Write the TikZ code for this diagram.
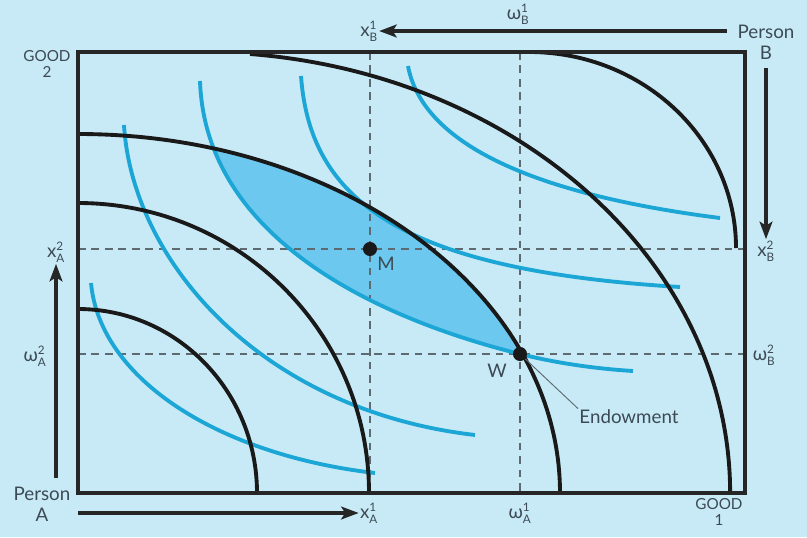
\documentclass[tikz,border=0pt]{standalone}
\usepackage{fontspec}
\setmainfont{Lato}
\usetikzlibrary{positioning,arrows.meta}

\definecolor{bgblue}{RGB}{200,234,247}
\definecolor{curveblue}{RGB}{27,166,214}
\definecolor{lensblue}{RGB}{108,200,238}
\definecolor{labelgray}{RGB}{60,74,84}
\definecolor{guidegray}{RGB}{95,105,112}

\newcommand{\glab}[3]{#1$^{\mbox{\fontsize{10}{10}\selectfont #2}}_{\mbox{\fontsize{10}{10}\selectfont #3}}$}

\begin{document}
\begin{tikzpicture}[
    x=0.3mm, y=-0.3mm,
    every node/.style={font=\fontsize{16}{18}\selectfont, text=labelgray, inner sep=1pt},
    boxline/.style={draw=black!85, line width=2.6pt},
    curveB/.style={draw=black!90, line width=3.3pt},
    curveA/.style={draw=curveblue, line width=3.3pt},
    guide/.style={draw=guidegray, line width=1.2pt, dash pattern=on 6.5pt off 5pt},
    axisarrow/.style={draw=black!85, line width=2.6pt, -{Stealth[length=15pt, width=11pt, inset=3.5pt]}},
    dot/.style={circle, fill=black!90, minimum size=12pt, inner sep=0pt},
    goodlabel/.style={font=\fontsize{13}{13}\selectfont, align=center}
]

% 背景
\fill[bgblue] (0,0) rectangle (807,537);
\useasboundingbox (0,0) rectangle (807,537);

% 阴影区域
\begin{scope}
\clip (200,81) .. controls (205,230) and (360,314) .. (520,354) -- (745,354) -- (745,52) -- (200,52) -- cycle;
\fill[lensblue] (78,493) ellipse[x radius=482, y radius=359];
\end{scope}

% 虚线
\draw[guide] (370,52) -- (370,493);
\draw[guide] (520,52) -- (520,493);
\draw[guide] (78,249) -- (745,249);
\draw[guide] (78,354) -- (745,354);

% 蓝色曲线
\draw[curveA] (91,283) .. controls (100,380) and (220,455) .. (375,473);
\draw[curveA] (124,125) .. controls (132,260) and (260,410) .. (475,435);
\draw[curveA] (200,81) .. controls (205,230) and (360,314) .. (520,354)
    .. controls (560,364) and (600,369) .. (633,371);
\draw[curveA] (301,76) .. controls (310,200) and (400,270) .. (680,287);
\draw[curveA] (408,66) .. controls (420,130) and (500,190) .. (720,218);

% 黑色曲线
\draw[curveB] (78,309) arc[start angle=-90, end angle=0, x radius=179, y radius=184];
\draw[curveB] (78,203) arc[start angle=-90, end angle=0, x radius=291, y radius=290];
\draw[curveB] (78,134) arc[start angle=-90, end angle=0, x radius=482, y radius=359];
\draw[curveB] (250,54) arc[start angle=-84.6, end angle=0, x radius=530, y radius=441];
\draw[curveB] (529,52) arc[start angle=-90, end angle=0, x radius=207, y radius=196];

% 方框
\draw[boxline] (78,52) rectangle (745,493);

% 点
\node[dot] (M) at (370,249) {};
\node[dot] (W) at (520,354) {};
\node (Mlabel) at (386,264) {M};
\node (Wlabel) at (497,371) {W};
\node (endow) at (629,417) {Endowment};
\draw[guidegray, line width=0.8pt] (W) -- (endow.north west);

% 坐标标签
\node[goodlabel] (goodtwo) at (47,64) {GOOD\\2};
\node[goodlabel] (goodone) at (719,512) {GOOD\\1};
\node[align=center] (personA) at (42,504) {Person\\A};
\node[align=center] (personB) at (766,42) {Person\\B};

\node (xAone) at (369,513) {\glab{x}{1}{A}};
\node (omegaAone) at (520,513) {\glab{ω}{1}{A}};
\node (xAtwo) at (56,252) {\glab{x}{2}{A}};
\node (omegaAtwo) at (35,356) {\glab{ω}{2}{A}};
\node (xBone) at (369,31) {\glab{x}{1}{B}};
\node (omegaBone) at (518,14) {\glab{ω}{1}{B}};
\node (xBtwo) at (766,251) {\glab{x}{2}{B}};
\node (omegaBtwo) at (764,355) {\glab{ω}{2}{B}};

% 箭头
\coordinate (startA1) at (78,513);
\coordinate (startA2) at (56,478);
\coordinate (startB1) at (727,31);
\coordinate (startB2) at (766,68);
\draw[axisarrow] (startA1) -- (xAone.west |- startA1);
\draw[axisarrow] (startA2) -- (xAtwo.south);
\draw[axisarrow] (startB1) -- (xBone.east |- startB1);
\draw[axisarrow] (startB2) -- (xBtwo.north);

\end{tikzpicture}
\end{document}
